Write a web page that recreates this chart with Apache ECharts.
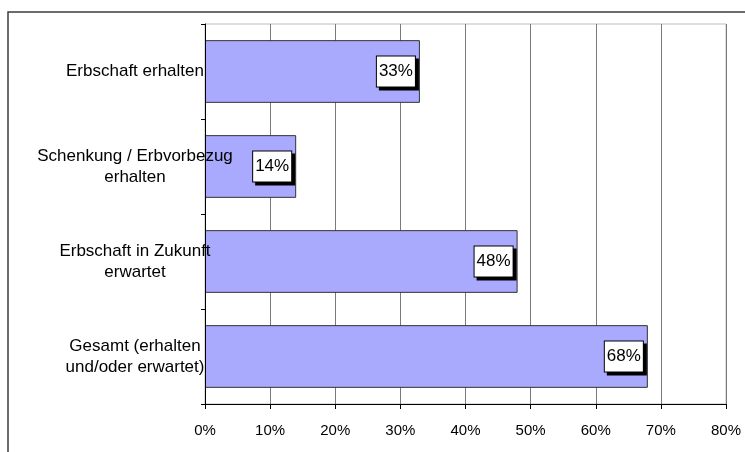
<!DOCTYPE html>
<html>
<head>
<meta charset="utf-8">
<script src="https://cdn.jsdelivr.net/npm/echarts@6/dist/echarts.min.js"></script>
<style>
  html, body { margin: 0; padding: 0; background: #ffffff; }
  #chart { width: 745px; height: 452px; }
</style>
</head>
<body>
<div id="chart"></div>
<script>
// Categories (top to bottom) and share in percent
const categories = [
  'Erbschaft erhalten',
  'Schenkung / Erbvorbezug\nerhalten',
  'Erbschaft in Zukunft\nerwartet',
  'Gesamt (erhalten\nund/oder erwartet)'
];
const shares = [33, 14, 48, 68];
const axisMax = 80;
const axisStep = 10;

const FONT = '"Liberation Sans", Arial, sans-serif';

const chart = echarts.init(document.getElementById('chart'), null, { renderer: 'canvas' });

chart.setOption({
  animation: false,
  backgroundColor: '#ffffff',
  graphic: [
    {
      type: 'rect',
      silent: true,
      shape: { x: 8, y: 12, width: 800, height: 500 },
      style: { fill: 'none', stroke: '#3c3c3c', lineWidth: 1.5 },
      z: 0
    }
  ],
  grid: {
    left: 205, top: 24, right: 19, bottom: 48,
    show: true,
    borderColor: '#bdbdbd',
    borderWidth: 1,
    backgroundColor: 'transparent'
  },
  xAxis: {
    type: 'value',
    min: 0,
    max: axisMax,
    interval: axisStep,
    axisLine: { show: true, lineStyle: { color: '#000', width: 1 } },
    axisTick: { show: true, length: 5, lineStyle: { color: '#000' } },
    axisLabel: {
      formatter: '{value}%',
      color: '#000',
      fontFamily: FONT,
      fontSize: 15,
      margin: 19
    },
    splitLine: { show: true, lineStyle: { color: '#7a7a7a', width: 1 } }
  },
  yAxis: {
    type: 'category',
    data: categories,
    inverse: true,
    z: 5,
    axisLine: { show: true, lineStyle: { color: '#000', width: 1 } },
    axisTick: { show: true, length: 4, lineStyle: { color: '#000' } },
    axisLabel: {
      color: '#000',
      fontFamily: FONT,
      fontSize: 17,
      lineHeight: 21,
      align: 'center',
      margin: 70
    },
    splitLine: { show: false }
  },
  series: [
    {
      type: 'bar',
      data: shares,
      barCategoryGap: '34%',
      itemStyle: {
        color: '#a9a9fd',
        borderColor: '#333',
        borderWidth: 1
      },
      label: {
        show: true,
        position: 'insideRight',
        distance: 5,
        formatter: '{c}%',
        color: '#000',
        fontFamily: FONT,
        fontSize: 17,
        lineHeight: 19,
        backgroundColor: '#ffffff',
        borderColor: '#000',
        borderWidth: 1,
        padding: [5, 2, 6, 2],
        shadowColor: '#000',
        shadowBlur: 0,
        shadowOffsetX: 3,
        shadowOffsetY: 3
      }
    }
  ]
});
</script>
</body>
</html>
